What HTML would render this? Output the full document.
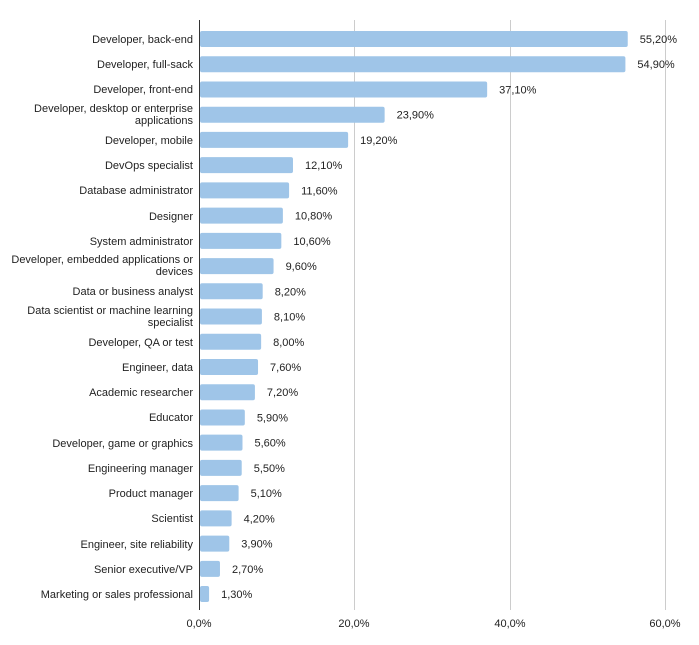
<!DOCTYPE html>
<html><head><meta charset="utf-8"><style>body{margin:0;background:#fff}svg{display:block}text{font-family:"Liberation Sans",Arial,sans-serif;font-size:11px;fill:#222}</style></head>
<body>
<svg width="699" height="645" xmlns="http://www.w3.org/2000/svg">
<g stroke="#ccc" stroke-width="1">
<line x1="354.5" y1="20" x2="354.5" y2="610"/>
<line x1="510.5" y1="20" x2="510.5" y2="610"/>
<line x1="665.5" y1="20" x2="665.5" y2="610"/>
</g>
<g id="bars" fill="#9fc5e8"></g>
<line x1="199.5" y1="20" x2="199.5" y2="610" stroke="#333" stroke-width="1"/>
<g id="labels"></g>
<g text-anchor="middle">
<text x="199" y="627">0,0%</text>
<text x="354" y="627">20,0%</text>
<text x="510" y="627">40,0%</text>
<text x="665" y="627">60,0%</text>
</g>
<g text-anchor="end">
<text x="193" y="43">Developer, back-end</text>
<text x="193" y="68">Developer, full-sack</text>
<text x="193" y="93">Developer, front-end</text>
<text x="193" y="112">Developer, desktop or enterprise</text>
<text x="193" y="124">applications</text>
<text x="193" y="144">Developer, mobile</text>
<text x="193" y="169">DevOps specialist</text>
<text x="193" y="194">Database administrator</text>
<text x="193" y="220">Designer</text>
<text x="193" y="245">System administrator</text>
<text x="193" y="263">Developer, embedded applications or</text>
<text x="193" y="275">devices</text>
<text x="193" y="295">Data or business analyst</text>
<text x="193" y="314">Data scientist or machine learning</text>
<text x="193" y="326">specialist</text>
<text x="193" y="346">Developer, QA or test</text>
<text x="193" y="371">Engineer, data</text>
<text x="193" y="396">Academic researcher</text>
<text x="193" y="421">Educator</text>
<text x="193" y="447">Developer, game or graphics</text>
<text x="193" y="472">Engineering manager</text>
<text x="193" y="497">Product manager</text>
<text x="193" y="522">Scientist</text>
<text x="193" y="548">Engineer, site reliability</text>
<text x="193" y="573">Senior executive/VP</text>
<text x="193" y="598">Marketing or sales professional</text>
</g>
<script>
var v=[55.2,54.9,37.1,23.9,19.2,12.1,11.6,10.8,10.6,9.6,8.2,8.1,8.0,7.6,7.2,5.9,5.6,5.5,5.1,4.2,3.9,2.7,1.3];
var b=document.getElementById('bars'),l=document.getElementById('labels'),ns='http://www.w3.org/2000/svg';
v.forEach(function(x,i){var c=39+i*25.23,w=x*7.767;
var r=document.createElementNS(ns,'rect');r.setAttribute('x',200);r.setAttribute('y',c-8);r.setAttribute('width',w-1);r.setAttribute('height',16);r.setAttribute('rx',2);b.appendChild(r);
var t=document.createElementNS(ns,'text');t.setAttribute('x',200+w+11);t.setAttribute('y',c+4);t.textContent=x.toFixed(2).replace('.',',')+'%';l.appendChild(t);});
</script>
</svg>
</body></html>
